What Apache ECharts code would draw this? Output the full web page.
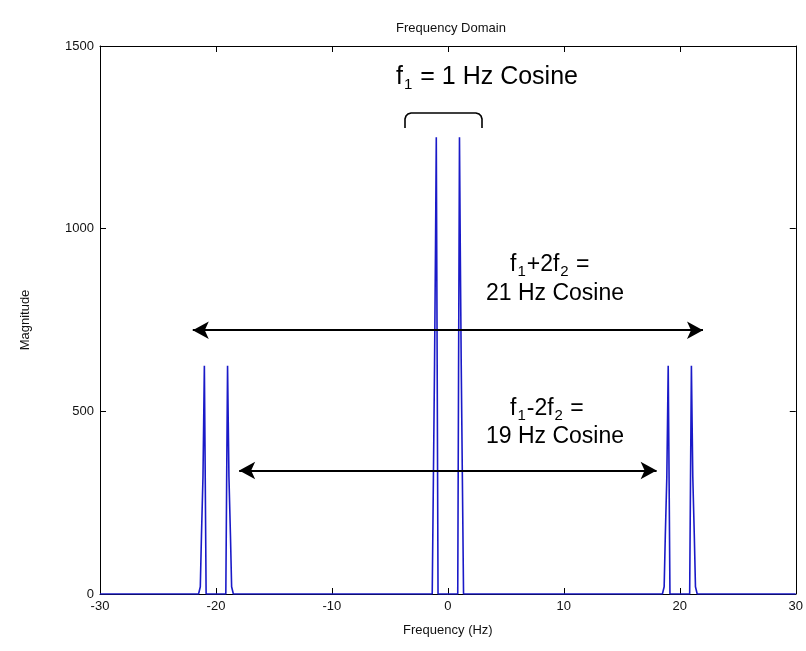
<!DOCTYPE html>
<html>
<head>
<meta charset="utf-8">
<script src="https://cdn.jsdelivr.net/npm/echarts@6/dist/echarts.min.js"></script>
<style>
  html, body { margin: 0; padding: 0; background: #fff; }
  #chart { width: 806px; height: 651px; }
</style>
</head>
<body>
<div id="chart"></div>
<script>
// spectrum: frequency (Hz) and magnitude
var freqHz = [
    -30,
    -21.5, -21.35, -21.25, -21.12, -21.06, -21, -20.92, -20.85,
    -19.15, -19.08, -19, -18.94, -18.88, -18.75, -18.65, -18.5,
    -1.35, -1.25, -1.15, -1.07, -1, -0.92, -0.85,
    0.85, 0.92, 1, 1.07, 1.15, 1.25, 1.35,
    18.5, 18.65, 18.75, 18.88, 18.94, 19, 19.08, 19.15,
    20.85, 20.92, 21, 21.06, 21.12, 21.25, 21.35, 21.5,
    30
];
var magnitude = [
    0,
    0, 20, 160, 320, 470, 625, 300, 0,
    0, 300, 625, 470, 320, 160, 20, 0,
    0, 315, 630, 940, 1250, 600, 0,
    0, 600, 1250, 940, 630, 315, 0,
    0, 20, 160, 320, 470, 625, 300, 0,
    0, 300, 625, 470, 320, 160, 20, 0,
    0
];
var xTicks = [-30, -20, -10, 0, 10, 20, 30];
var yTicks = [0, 500, 1000, 1500];

// double arrows (Hz span, magnitude level)
var arrow21 = [[-22, 722], [22, 722]];
var arrow19 = [[-18, 338], [18, 338]];

var chart = echarts.init(document.getElementById("chart"));

var lineData = [];
for (var i = 0; i < freqHz.length; i++) {
    lineData.push([freqHz[i], magnitude[i]]);
}

var tickFont = { fontFamily: 'Arial, "Liberation Sans", sans-serif', fontSize: 13, color: '#111' };
var noteFont = 'Arial, "Liberation Sans", sans-serif';

function box(pos, show) {
    var vertical = pos === 'left' || pos === 'right';
    var ticks = vertical ? yTicks : xTicks;
    return {
        type: 'value',
        position: pos,
        min: ticks[0],
        max: ticks[ticks.length - 1],
        interval: vertical ? 500 : 10,
        axisLine: { show: true, onZero: false, lineStyle: { color: '#000', width: 1 } },
        axisTick: { show: true, inside: true, length: 6, lineStyle: { color: '#000' } },
        axisLabel: Object.assign({ show: show, margin: 6, formatter: function (v) { return String(v); } }, tickFont),
        splitLine: { show: false }
    };
}

var xBottom = box('bottom', true);
xBottom.name = 'Frequency (Hz)';
xBottom.nameLocation = 'middle';
xBottom.nameGap = 30;
xBottom.nameTextStyle = tickFont;
var yLeft = box('left', true);
yLeft.name = 'Magnitude';
yLeft.nameLocation = 'middle';
yLeft.nameGap = 68;
yLeft.nameTextStyle = tickFont;

var noteRich = {
    m: { fontSize: 23, fontFamily: noteFont, lineHeight: 28, color: '#000' },
    s: { fontSize: 15, fontFamily: noteFont, lineHeight: 28, color: '#000', padding: [14, 1, 0, 1] }
};

var option = {
    backgroundColor: '#fff',
    animation: false,
    title: {
        text: 'Frequency Domain',
        left: 446, top: 17,
        textAlign: 'center',
        textStyle: { fontFamily: tickFont.fontFamily, fontSize: 13, fontWeight: 'normal', color: '#111' }
    },
    grid: { left: 100, right: 10, top: 46, bottom: 57, containLabel: false },
    xAxis: [xBottom, box('top', false)],
    yAxis: [yLeft, box('right', false)],
    series: [{
        type: 'line',
        data: lineData,
        symbol: 'none',
        lineStyle: { color: '#1a1ac8', width: 1.6 },
        markLine: {
            silent: true,
            symbol: ['arrow', 'arrow'],
            symbolSize: [13, 16],
            label: { show: false },
            lineStyle: { color: '#000', type: 'solid', width: 2 },
            data: [
                [{ coord: arrow21[0] }, { coord: arrow21[1] }],
                [{ coord: arrow19[0] }, { coord: arrow19[1] }]
            ]
        }
    }],
    graphic: [
        {
            type: 'text', x: 396, y: 62,
            style: { text: '{m|f}{s|1}{m| = 1 Hz Cosine}', rich: {
                m: { fontSize: 25, fontFamily: noteFont, lineHeight: 30, color: '#000' },
                s: { fontSize: 15, fontFamily: noteFont, lineHeight: 30, color: '#000', padding: [15, 1, 0, 1] }
            } }
        },
        {
            type: 'polyline',
            shape: { points: [[405, 128], [405, 119], [406, 116], [408, 114], [411, 113],
                              [476, 113], [479, 114], [481, 116], [482, 119], [482, 128]] },
            style: { stroke: '#000', lineWidth: 1.6, fill: null }
        },
        {
            type: 'text', x: 510, y: 251,
            style: { text: '{m|f}{s|1}{m|+2f}{s|2}{m| =}', rich: noteRich }
        },
        {
            type: 'text', x: 486, y: 282,
            style: { text: '21 Hz Cosine', fill: '#000', font: '23px ' + noteFont }
        },
        {
            type: 'text', x: 510, y: 395,
            style: { text: '{m|f}{s|1}{m|-2f}{s|2}{m| =}', rich: noteRich }
        },
        {
            type: 'text', x: 486, y: 425,
            style: { text: '19 Hz Cosine', fill: '#000', font: '23px ' + noteFont }
        }
    ]
};

chart.setOption(option);
</script>
</body>
</html>
